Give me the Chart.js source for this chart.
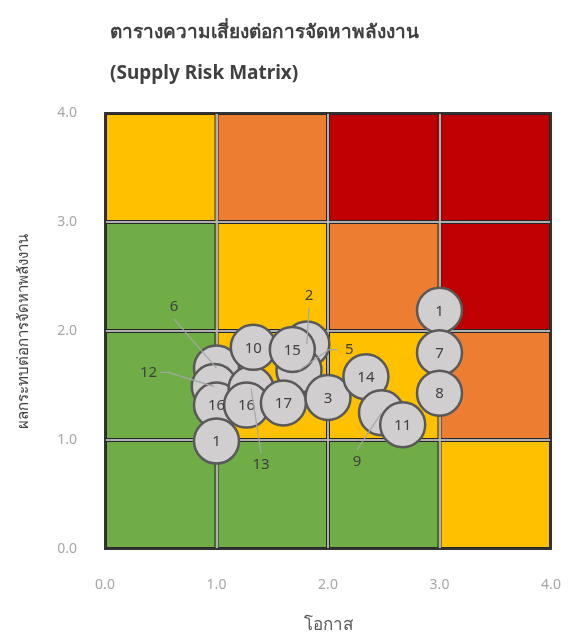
<!DOCTYPE html>
<html>
<head>
<meta charset="utf-8">
<script src="https://cdn.jsdelivr.net/npm/chart.js@4.4.0/dist/chart.umd.min.js"></script>
<style>
  html, body { margin: 0; padding: 0; background: #fff; }
  #wrap { position: relative; width: 570px; height: 637px; }
  #title {
    position: absolute; left: 110px; top: 11px;
    font-family: "Noto Sans", "DejaVu Sans", sans-serif;
    font-weight: bold; font-size: 19px; line-height: 41px; color: #404040;
  }
  canvas { position: absolute; left: 0; top: 0; }
</style>
</head>
<body>
<div id="wrap">
  <canvas id="risk" width="570" height="637"></canvas>
  <div id="title">ตารางความเสี่ยงต่อการจัดหาพลังงาน<br>(Supply Risk Matrix)</div>
</div>
<script>
// background risk cells, row by row from the bottom (impact 0-1 up to 3-4)
const Y = '#FFC000', O = '#ED7D31', R = '#C00000', G = '#70AD47';
const cellColors = [
  [G, G, G, Y],
  [G, Y, Y, O],
  [G, Y, O, R],
  [Y, O, R, R],
];

// bubbles in drawing order (back to front)
const labels  = ['6', '12', '16', '1', '13', '16', '10', '2', '5', '17', '15', '3', '14', '9', '11', '1', '7', '8'];
const chance  = [1.00, 0.98, 1.00, 1.00, 1.31, 1.27, 1.33, 1.81, 1.74, 1.60, 1.68, 2.00, 2.34, 2.48, 2.67, 3.00, 3.00, 3.00];
const impact  = [1.66, 1.49, 1.32, 0.99, 1.47, 1.32, 1.85, 1.88, 1.64, 1.34, 1.83, 1.39, 1.58, 1.25, 1.14, 2.19, 1.80, 1.43];

// labels placed outside their bubble, with a leader line
const calloutLabel = ['6', '12', '2', '5', '13', '9'];
const calloutIndex = [0, 1, 7, 8, 4, 13];
const calloutX = [0.62, 0.39, 1.83, 2.19, 1.40, 2.26];
const calloutY = [2.22, 1.62, 2.32, 1.83, 0.77, 0.80];

const xTicks = [0, 1, 2, 3, 4];
const yTicks = [0, 1, 2, 3, 4];

const FONT = '"Noto Sans", "DejaVu Sans", sans-serif';

const cellsPlugin = {
  id: 'cells',
  beforeDraw(chart) {
    const { ctx, scales: { x, y } } = chart;
    ctx.save();
    for (let r = 0; r < cellColors.length; r++) {
      for (let c = 0; c < cellColors[r].length; c++) {
        const x0 = x.getPixelForValue(c), x1 = x.getPixelForValue(c + 1);
        const y0 = y.getPixelForValue(r + 1), y1 = y.getPixelForValue(r);
        ctx.fillStyle = cellColors[r][c];
        ctx.fillRect(x0, y0, x1 - x0, y1 - y0);
        ctx.strokeStyle = '#262626';
        ctx.lineWidth = 1;
        ctx.strokeRect(x0 + 1.5, y0 + 1.5, x1 - x0 - 3, y1 - y0 - 3);
      }
    }
    ctx.restore();
  },
  afterDraw(chart) {
    const { ctx, chartArea: a } = chart;
    ctx.save();
    ctx.strokeStyle = '#333';
    ctx.lineWidth = 2;
    ctx.strokeRect(a.left, a.top, a.right - a.left, a.bottom - a.top);
    ctx.restore();
  }
};

const bubbleText = {
  id: 'bubbleText',
  afterDatasetsDraw(chart) {
    const { ctx, scales: { x, y } } = chart;
    const pts = chart.getDatasetMeta(0).data;
    ctx.save();
    ctx.font = '15px ' + FONT;
    ctx.fillStyle = '#404040';
    ctx.textAlign = 'center';
    ctx.textBaseline = 'middle';
    pts.forEach((p, i) => {
      if (calloutIndex.includes(i)) return;
      ctx.fillText(labels[i], p.x, p.y + 1);
    });
    // callouts
    ctx.strokeStyle = '#A6A6A6';
    ctx.lineWidth = 1.2;
    calloutLabel.forEach((t, k) => {
      const lx = x.getPixelForValue(calloutX[k]);
      const ly = y.getPixelForValue(calloutY[k]);
      const p = pts[calloutIndex[k]];
      const dx = p.x - lx, dy = p.y - ly;
      let sx, sy, ex, ey;
      if (Math.abs(dx) > Math.abs(dy)) {
        sx = lx + Math.sign(dx) * 12; sy = ly;
        ex = sx + Math.sign(dx) * 8; ey = ly;
      } else {
        sx = lx; sy = ly + Math.sign(dy) * 12;
        ex = lx; ey = sy;
      }
      ctx.beginPath();
      ctx.moveTo(sx, sy);
      ctx.lineTo(ex, ey);
      ctx.lineTo(p.x, p.y);
      ctx.stroke();
      ctx.fillText(t, lx, ly);
    });
    ctx.restore();
  }
};

new Chart(document.getElementById('risk'), {
  type: 'bubble',
  data: {
    datasets: [{
      data: chance.map((v, i) => ({ x: v, y: impact[i], r: 22.5 })),
      backgroundColor: '#D0CECE',
      borderColor: '#595959',
      borderWidth: 2.5,
    }]
  },
  options: {
    responsive: false,
    animation: false,
    events: [],
    layout: { autoPadding: false, padding: { top: 113, right: 19, left: 0, bottom: 0 } },
    plugins: {
      legend: { display: false },
      tooltip: { enabled: false },
    },
    scales: {
      x: {
        min: 0, max: 4,
        afterBuildTicks: s => { s.ticks = xTicks.map(v => ({ value: v })); },
        afterFit: s => { s.height = 88; },
        grid: { color: '#B0B0B0', lineWidth: 2, drawTicks: true, tickLength: 28, tickColor: 'rgba(0,0,0,0)' },
        border: { display: false },
        ticks: { padding: 0, color: '#A6A6A6', font: { family: FONT, size: 14 }, callback: v => Number(v).toFixed(1) },
        title: { display: true, text: 'โอกาส', color: '#595959', font: { family: FONT, size: 17 }, padding: { top: 8, bottom: 2 } },
      },
      y: {
        min: 0, max: 4,
        afterBuildTicks: s => { s.ticks = yTicks.map(v => ({ value: v })); },
        afterFit: s => { s.width = 105; },
        grid: { color: '#B0B0B0', lineWidth: 2, drawTicks: false },
        border: { display: false },
        ticks: { padding: 28, color: '#A6A6A6', font: { family: FONT, size: 14 }, callback: v => Number(v).toFixed(1) },
        title: { display: true, text: 'ผลกระทบต่อการจัดหาพลังงาน', color: '#404040', font: { family: FONT, size: 15 }, padding: { top: 15, bottom: 0 } },
      }
    }
  },
  plugins: [cellsPlugin, bubbleText]
});
</script>
</body>
</html>
